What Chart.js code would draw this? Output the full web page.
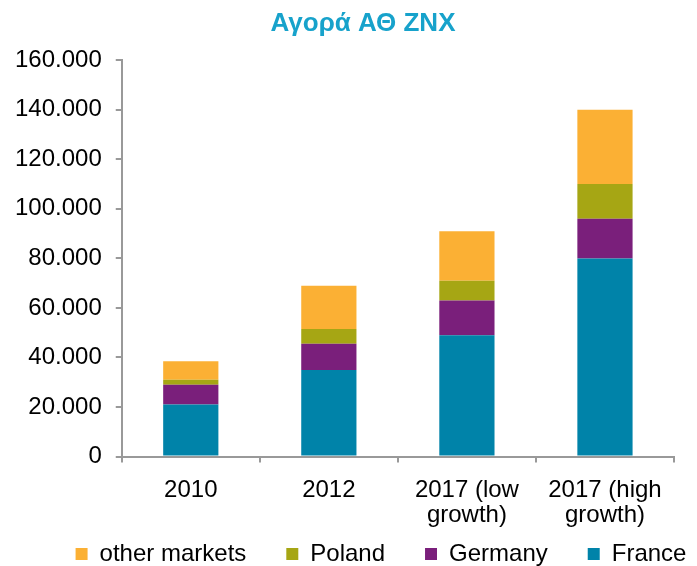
<!DOCTYPE html>
<html>
<head>
<meta charset="utf-8">
<script src="https://cdn.jsdelivr.net/npm/chart.js@4"></script>
<style>
  html, body { margin:0; padding:0; background:#fff; }
  #wrap { width:697px; height:566px; }
</style>
</head>
<body>
<div id="wrap"><canvas id="c"></canvas></div>
<script>
/* ====== データ ====== */
const categories = ["2010", "2012", ["2017 (low", "growth)"], ["2017 (high", "growth)"]];
const france  = [21000, 35000, 49000, 80000];
const germany = [8000, 10500, 14000, 16000];
const poland  = [2000, 6000, 8000, 14000];
const other   = [7500, 17500, 20000, 30000];
const yTicks  = [0, 20000, 40000, 60000, 80000, 100000, 120000, 140000, 160000];

const FONT = "'Liberation Sans', Arial, sans-serif";
const fmt = v => String(v).replace(/\B(?=(\d{3})+(?!\d))/g, '.');

// タイトル・凡例の位置微調整
const nudge = {
  id: 'nudge',
  afterLayout(chart){
    const lg = chart.legend, tb = chart.titleBlock;
    lg.left += 32; lg.right += 32;
    lg.top -= 41;
    tb.left += 14; tb.right += 14;
  }
};

new Chart(document.getElementById('c'), {
  type: 'bar',
  data: {
    labels: categories,
    datasets: [
      {label:'France',        data:france,  backgroundColor:'#0083A9'},
      {label:'Germany',       data:germany, backgroundColor:'#7A1F7B'},
      {label:'Poland',        data:poland,  backgroundColor:'#A6A614'},
      {label:'other markets', data:other,   backgroundColor:'#FBB034'}
    ].map(d => ({...d, categoryPercentage:0.8, barPercentage:0.5}))
  },
  plugins: [nudge],
  options: {
    responsive: true,
    maintainAspectRatio: false,
    animation: false,
    layout: {padding:{left:1, right:0, top:2, bottom:0}},
    plugins: {
      title: {
        display: true,
        text: 'Αγορά ΑΘ ZNX',
        color: '#17A2CB',
        font: {family: FONT, size: 26, weight: 'bold'},
        padding: {top: 6, bottom: 21}
      },
      legend: {
        position: 'bottom',
        reverse: true,
        maxHeight: 23,
        labels: {
          color: '#000',
          font: {family: FONT, size: 24},
          boxWidth: 12, boxHeight: 12,
          padding: 40
        }
      },
      tooltip: {enabled:false}
    },
    scales: {
      x: {
        stacked: true,
        afterFit: s => { s.paddingRight = 23; },
        grid: {display:true, drawOnChartArea:false, tickLength:6, color:'#999', lineWidth:2},
        border: {color:'#999', width:2},
        ticks: {color:'#000', font:{family:FONT, size:24, lineHeight:1.05}, maxRotation:0, autoSkip:false, padding:15}
      },
      y: {
        stacked: true,
        min: 0, max: 160000,
        afterBuildTicks: ax => { ax.ticks = yTicks.map(v => ({value:v})); },
        grid: {display:true, drawOnChartArea:false, tickLength:6, color:'#999', lineWidth:2},
        border: {color:'#999', width:2},
        ticks: {color:'#000', font:{family:FONT, size:24}, padding:14, callback: v => fmt(v)}
      }
    }
  }
});
</script>
</body>
</html>
